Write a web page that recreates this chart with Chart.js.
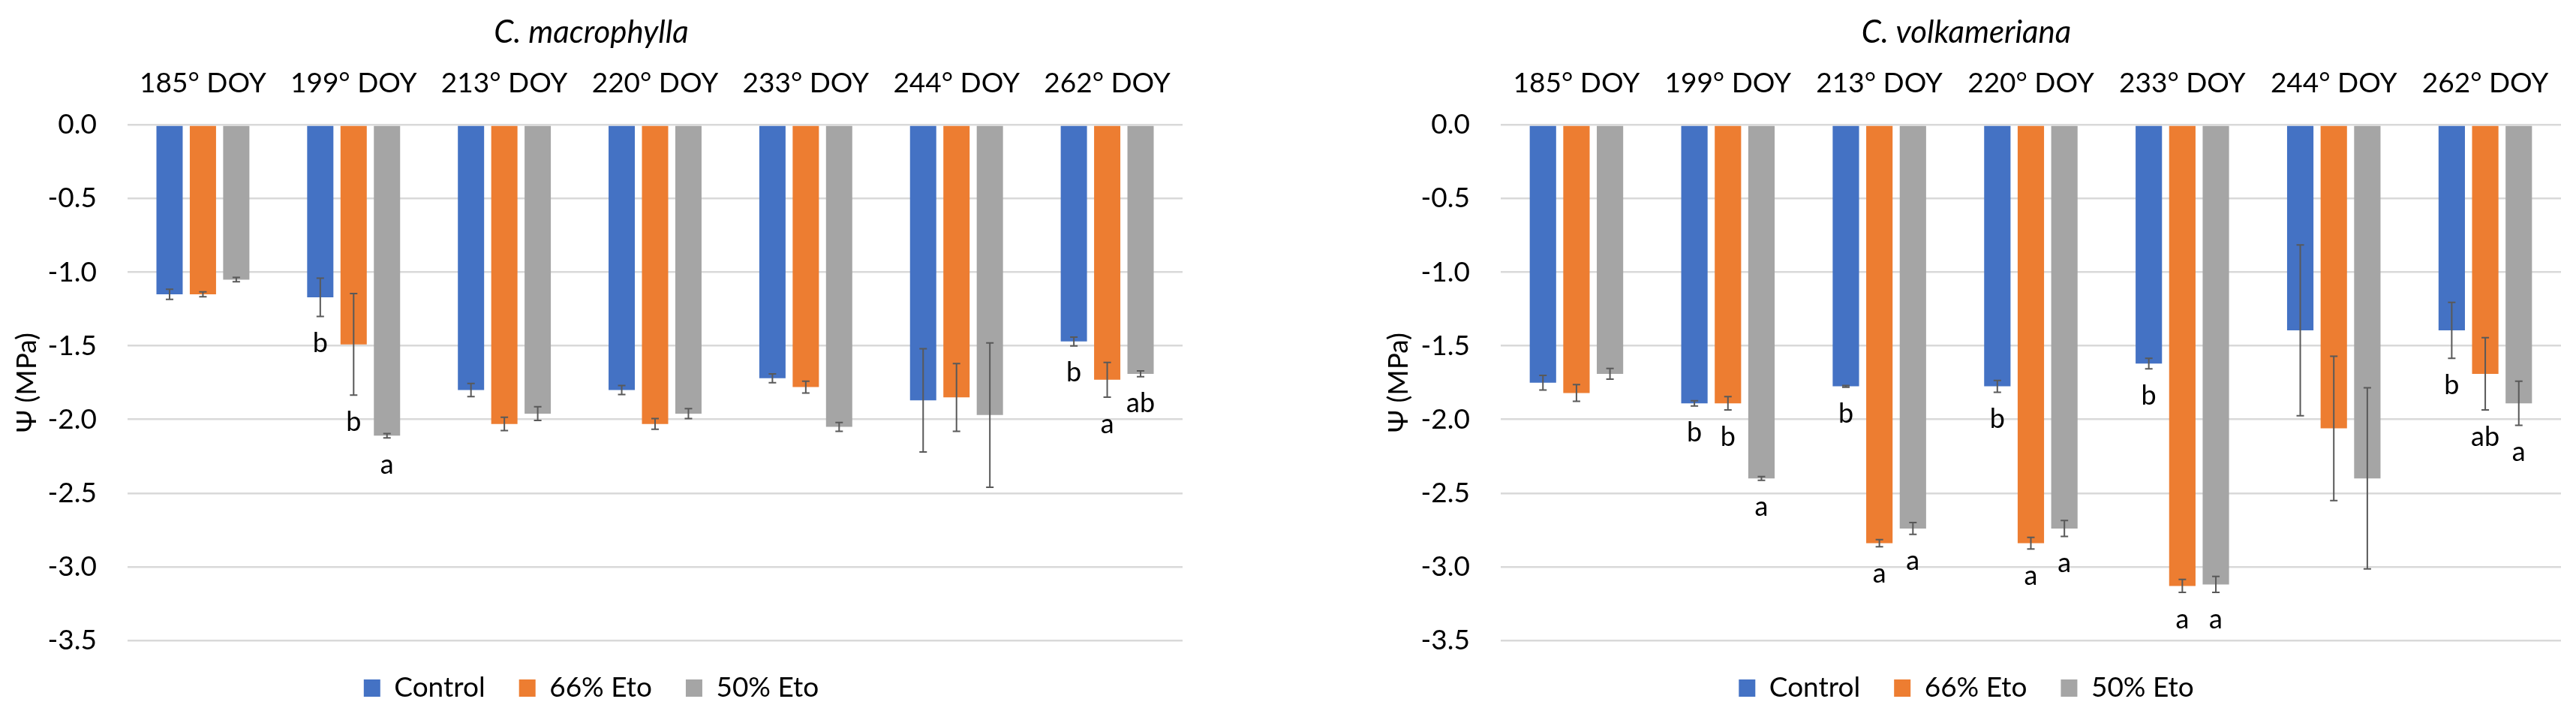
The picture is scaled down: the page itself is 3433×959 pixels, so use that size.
<!DOCTYPE html>
<html>
<head>
<meta charset="utf-8">
<script src="https://cdn.jsdelivr.net/npm/chart.js@4.4.1/dist/chart.umd.min.js"></script>
<style>
  body { margin: 0; background: #fff; width: 3433px; height: 959px; position: relative; overflow: hidden; }
  canvas { position: absolute; top: 0; }
  #macrophylla { left: 0; }
  #volkameriana { left: 1828px; }
</style>
</head>
<body>
<canvas id="macrophylla" width="1600" height="959"></canvas>
<canvas id="volkameriana" width="1605" height="959"></canvas>
<script>
// sampling days (x categories)
const days = ["185° DOY", "199° DOY", "213° DOY", "220° DOY", "233° DOY", "244° DOY", "262° DOY"];
const treatments = ["Control", "66% Eto", "50% Eto"];
const yTicks = [0, -0.5, -1.0, -1.5, -2.0, -2.5, -3.0, -3.5];

// C. macrophylla, stem water potential (MPa) and error bars
const macControl = [-1.15, -1.17, -1.80, -1.80, -1.72, -1.87, -1.47];
const macControlErr = [0.035, 0.13, 0.045, 0.03, 0.03, 0.35, 0.03];
const mac66 = [-1.15, -1.49, -2.03, -2.03, -1.78, -1.85, -1.73];
const mac66Err = [0.017, 0.345, 0.045, 0.036, 0.04, 0.23, 0.118];
const mac50 = [-1.05, -2.11, -1.96, -1.96, -2.05, -1.97, -1.69];
const mac50Err = [0.015, 0.015, 0.046, 0.034, 0.03, 0.49, 0.02];
const macControlSig = ["", "b", "", "", "", "", "b"];
const mac66Sig = ["", "b", "", "", "", "", "a"];
const mac50Sig = ["", "a", "", "", "", "", "ab"];

// C. volkameriana
const volControl = [-1.75, -1.89, -1.775, -1.775, -1.62, -1.395, -1.395];
const volControlErr = [0.05, 0.018, 0.006, 0.04, 0.036, 0.58, 0.19];
const vol66 = [-1.82, -1.89, -2.84, -2.84, -3.13, -2.06, -1.69];
const vol66Err = [0.057, 0.045, 0.024, 0.04, 0.044, 0.49, 0.245];
const vol50 = [-1.69, -2.40, -2.74, -2.74, -3.12, -2.40, -1.89];
const vol50Err = [0.036, 0.013, 0.04, 0.054, 0.054, 0.615, 0.15];
const volControlSig = ["", "b", "b", "b", "b", "", "b"];
const vol66Sig = ["", "b", "a", "a", "a", "", "ab"];
const vol50Sig = ["", "a", "a", "a", "a", "", "a"];

const colors = ["#4472C4", "#ED7D31", "#A5A5A5"];
const FONT = "Lato";

// error bars + significance letters drawn on top of the bars
const errorBars = {
  id: "errorBars",
  afterDatasetsDraw(chart) {
    const ctx = chart.ctx;
    const y = chart.scales.y;
    ctx.save();
    chart.data.datasets.forEach((ds, i) => {
      chart.getDatasetMeta(i).data.forEach((bar, j) => {
        const v = ds.data[j], e = ds.errors[j];
        const top = y.getPixelForValue(v + e);
        const bottom = y.getPixelForValue(v - e);
        ctx.strokeStyle = "#595959";
        ctx.lineWidth = 2;
        ctx.beginPath();
        ctx.moveTo(bar.x, top); ctx.lineTo(bar.x, bottom);
        ctx.moveTo(bar.x - 5, top); ctx.lineTo(bar.x + 5, top);
        ctx.moveTo(bar.x - 5, bottom); ctx.lineTo(bar.x + 5, bottom);
        ctx.stroke();
        if (ds.letters[j]) {
          ctx.fillStyle = "#000";
          ctx.font = "36px " + FONT;
          ctx.textAlign = "center";
          ctx.textBaseline = "middle";
          ctx.fillText(ds.letters[j], bar.x, bottom + 36);
        }
      });
    });
    ctx.restore();
  }
};

function panel(id, title, series, errs, sigs, axisWidth, rightPad) {
  new Chart(document.getElementById(id), {
    type: "bar",
    data: {
      labels: days,
      datasets: treatments.map((name, i) => ({
        label: name,
        data: series[i],
        errors: errs[i],
        letters: sigs[i],
        backgroundColor: colors[i],
        borderWidth: 0,
        categoryPercentage: 0.664,
        barPercentage: 0.787,
      })),
    },
    options: {
      responsive: false,
      animation: false,
      layout: { padding: { top: 18, bottom: 14, left: 0, right: rightPad } },
      scales: {
        x: {
          position: "top",
          afterFit: (s) => { s.height = 77; },
          grid: { display: false, drawTicks: false },
          border: { display: false },
          ticks: { color: "#000", font: { family: FONT, size: 37 }, padding: 33, maxRotation: 0 },
        },
        y: {
          min: -3.5,
          max: 0,
          afterBuildTicks: (s) => { s.ticks = yTicks.map((v) => ({ value: v })); },
          afterFit: (s) => { s.width = axisWidth; },
          grid: { color: "#d9d9d9", lineWidth: 2.5, drawTicks: false },
          border: { display: false },
          ticks: { color: "#000", font: { family: FONT, size: 37 }, padding: 41, callback: (v) => v.toFixed(1) },
          title: { display: true, text: "Ψ (MPa)", color: "#000", font: { family: FONT, size: 37 }, padding: { top: 14, bottom: 0 } },
        },
      },
      plugins: {
        title: {
          display: true,
          text: title,
          color: "#000",
          font: { family: FONT, size: 42, style: "italic", weight: "normal" },
          padding: { top: 0, bottom: 21 },
        },
        legend: {
          position: "bottom",
          labels: { color: "#000", font: { family: FONT, size: 37 }, boxWidth: 22, boxHeight: 23, padding: 45 },
        },
        tooltip: { enabled: false },
      },
    },
    plugins: [errorBars],
  });
}

Promise.all([
  document.fonts.load("37px Lato"),
  document.fonts.load("italic 42px Lato"),
]).catch(() => {}).then(() => {
  panel("macrophylla", "C. macrophylla",
    [macControl, mac66, mac50], [macControlErr, mac66Err, mac50Err],
    [macControlSig, mac66Sig, mac50Sig], 170, 24);
  panel("volkameriana", "C. volkameriana",
    [volControl, vol66, vol50], [volControlErr, vol66Err, vol50Err],
    [volControlSig, vol66Sig, vol50Sig], 172, 20);
});
</script>
</body>
</html>
